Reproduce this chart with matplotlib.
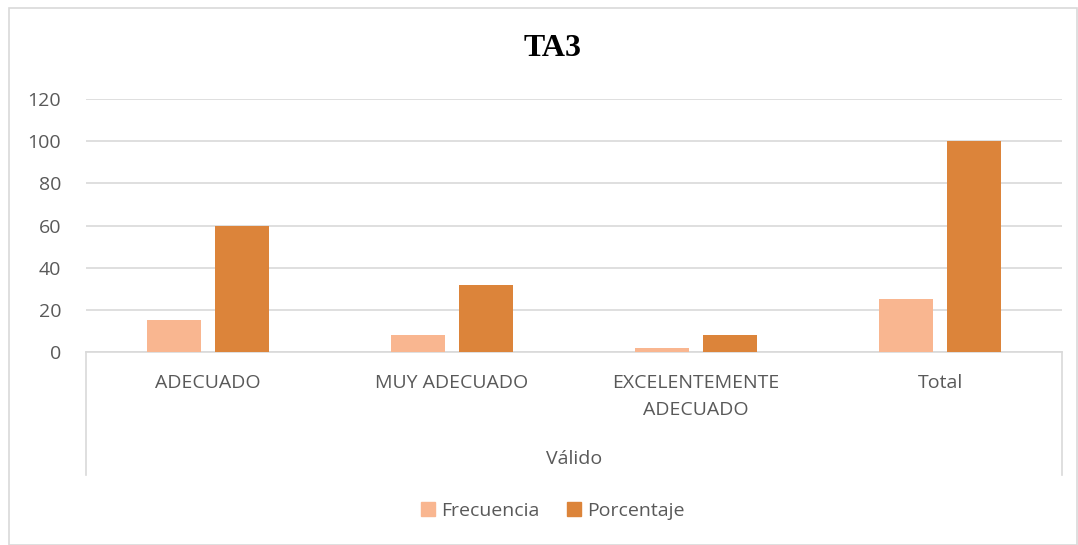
import matplotlib
matplotlib.use("Agg")
import matplotlib.pyplot as plt
import matplotlib.transforms as mtransforms
from matplotlib.patches import Rectangle, Patch
import numpy as np

categories = ["ADECUADO", "MUY ADECUADO", "EXCELENTEMENTE\nADECUADO", "Total"]
group_label = "Válido"
frecuencia = [15, 8, 2, 25]
porcentaje = [60, 32, 8, 100]
series_names = ["Frecuencia", "Porcentaje"]
yticks = [0, 20, 40, 60, 80, 100, 120]

c_frec = "#F9B690"
c_porc = "#DC843A"
grid_c = "#D9D9D9"
txt_c = "#595959"
font = "Open Sans"
fs = 14

fig = plt.figure(figsize=(10.78, 5.45), dpi=100)
ax = fig.add_axes([86 / 1078, 1 - 352 / 545, 976 / 1078, 253 / 545])

x = np.arange(len(categories))
w = 0.221
off = 0.141
ax.bar(x - off, frecuencia, w, color=c_frec, label=series_names[0], zorder=3)
ax.bar(x + off, porcentaje, w, color=c_porc, label=series_names[1], zorder=3)

ax.set_xlim(-0.5, len(categories) - 0.5)
ax.set_ylim(0, 120)
ax.set_yticks(yticks)
ax.set_yticklabels([str(t) for t in yticks], fontsize=fs, color=txt_c, family=font)
ax.tick_params(axis="y", length=0, pad=18)
ax.set_xticks([])
ax.grid(axis="y", color=grid_c, linewidth=1.2, zorder=0)
for s in ["top", "right", "left"]:
    ax.spines[s].set_visible(False)
ax.spines["bottom"].set_color(grid_c)
ax.spines["bottom"].set_linewidth(1.2)

# multi-level category axis
tr = mtransforms.blended_transform_factory(ax.transData, ax.transAxes)
for xe in [-0.5, len(categories) - 0.5]:
    ax.plot([xe, xe], [0, -0.486], transform=tr, color=grid_c, lw=1.2, clip_on=False)
for xi, lab in zip(x, categories):
    ax.text(xi, -0.088, lab, transform=tr, ha="center", va="top", fontsize=fs,
            color=txt_c, family=font, linespacing=1.65)
ax.text(np.mean(x), -0.423, group_label, transform=tr, ha="center", va="center",
        fontsize=fs, color=txt_c, family=font)

fig.text(0.513, 1 - 48 / 545, "TA3", ha="center", va="center", fontsize=23,
         fontweight="bold", family="Liberation Serif", color="black")

handles = [Patch(color=c_frec), Patch(color=c_porc)]
fig.legend(handles, series_names, loc="center", bbox_to_anchor=(0.513, 1 - 511 / 545),
           ncol=2, frameon=False, handlelength=0.7, handleheight=0.7,
           handletextpad=0.35, columnspacing=1.4,
           prop={"family": font, "size": fs}, labelcolor=txt_c)

fig.patches.append(Rectangle((9 / 1078, 0), 1068 / 1078, 1 - 8 / 545, transform=fig.transFigure,
                             fill=False, edgecolor=grid_c, lw=1.2))

fig.savefig("out.png", dpi=100)
